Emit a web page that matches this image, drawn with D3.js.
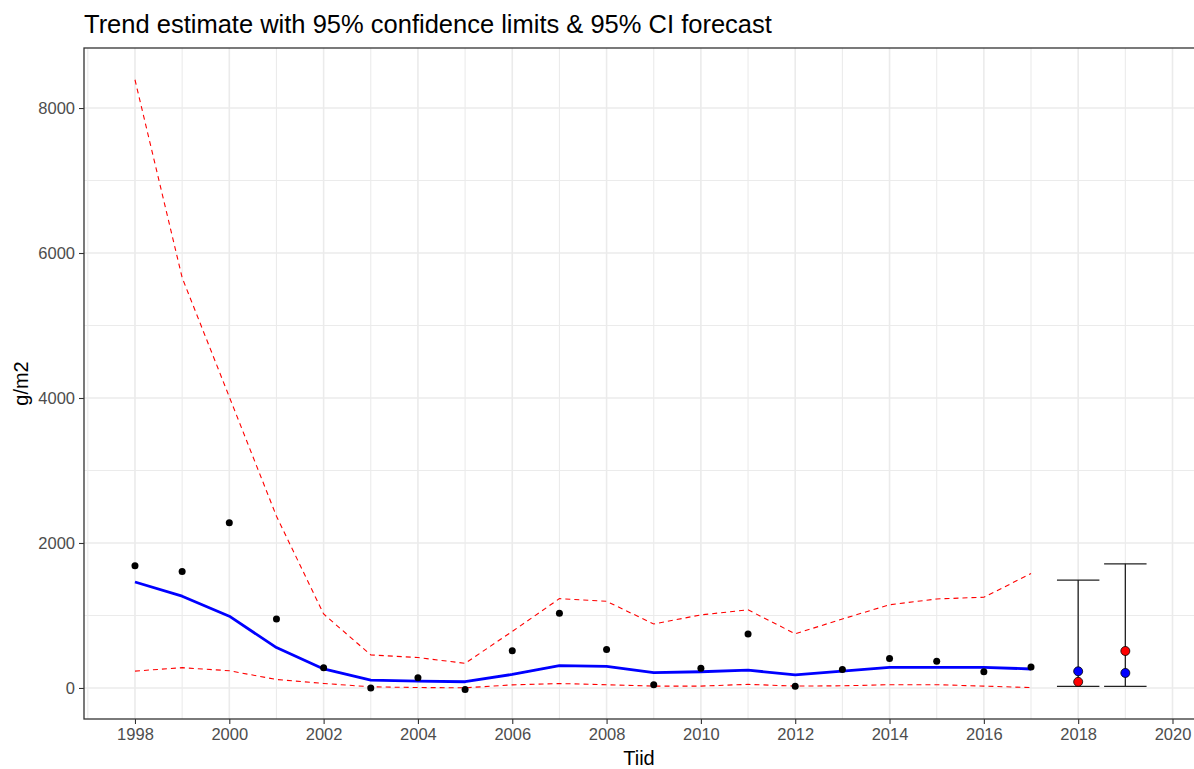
<!DOCTYPE html>
<html>
<head>
<meta charset="utf-8">
<script src="https://cdn.jsdelivr.net/npm/d3@7"></script>
<style>
body { margin:0; background:#fff; }
text { font-family: "Liberation Sans", Arial, sans-serif; }
</style>
</head>
<body>
<svg></svg>
<script>
// observed values (g/m2)
var years = [1998,1999,2000,2001,2002,2003,2004,2005,2006,2007,2008,2009,2010,2011,2012,2013,2014,2015,2016,2017]
var observed = [1685,1605,2280,952,279,0,140,-20,515,1030,530,45,272,746,25,254,406,368,225,290]
var trend = [1462,1266,990,557,262,108,94,86,187,307,298,213,224,246,180,233,285,285,285,262]
var lowerCI = [233,280,238,117,62,16,6,2,43,61,45,26,26,50,26,30,45,45,26,5]
var upperCI = [8390,5660,4015,2370,1020,456,420,340,780,1232,1195,883,1008,1078,747,952,1148,1228,1252,1578]

// forecast
var fcYears = [2018,2019]
var fcLow = [22,22]
var fcHigh = [1488,1712]
var fcTrend = [230,207]   // blue
var fcObs = [85,510]      // red

var xTicks = [1998,2000,2002,2004,2006,2008,2010,2012,2014,2016,2018,2020]
var yTicks = [0,2000,4000,6000,8000]

var screen = {width: 1194, height: 769}
var panel = {left: 84, top: 48, right: 1194, bottom: 719}

var svg = d3.select("svg")
    .attr("width", screen.width)
    .attr("height", screen.height)

var xScale = d3.scaleLinear()
    .domain([1996.919, 2020.456])
    .range([panel.left, panel.right])
var yScale = d3.scaleLinear()
    .domain([-428, 8828])
    .range([panel.bottom, panel.top])

// grid
var grid = svg.append("g").attr("id","grid")
var minorX = d3.range(1997, 2021, 2)
var minorY = [1000,3000,5000,7000]

grid.selectAll(".minx").data(minorX).enter().append("line")
    .attr("x1", function(d){return xScale(d)}).attr("x2", function(d){return xScale(d)})
    .attr("y1", panel.top).attr("y2", panel.bottom)
    .attr("stroke", "#ebebeb").attr("stroke-width", 1.1)
grid.selectAll(".miny").data(minorY).enter().append("line")
    .attr("y1", function(d){return yScale(d)}).attr("y2", function(d){return yScale(d)})
    .attr("x1", panel.left).attr("x2", panel.right)
    .attr("stroke", "#ebebeb").attr("stroke-width", 1.1)
grid.selectAll(".majx").data(xTicks).enter().append("line")
    .attr("x1", function(d){return xScale(d)}).attr("x2", function(d){return xScale(d)})
    .attr("y1", panel.top).attr("y2", panel.bottom)
    .attr("stroke", "#ebebeb").attr("stroke-width", 1.6)
grid.selectAll(".majy").data(yTicks).enter().append("line")
    .attr("y1", function(d){return yScale(d)}).attr("y2", function(d){return yScale(d)})
    .attr("x1", panel.left).attr("x2", panel.right)
    .attr("stroke", "#ebebeb").attr("stroke-width", 1.6)

// confidence limits
var lineGen = function(vals){
    return d3.line()
        .x(function(d,i){return xScale(years[i])})
        .y(function(d){return yScale(d)})(vals)
}
svg.append("path").attr("d", lineGen(upperCI))
    .attr("fill","none").attr("stroke","#ff0000").attr("stroke-width",1.1)
    .attr("stroke-dasharray","5,4")
svg.append("path").attr("d", lineGen(lowerCI))
    .attr("fill","none").attr("stroke","#ff0000").attr("stroke-width",1.1)
    .attr("stroke-dasharray","5,4")

// trend
svg.append("path").attr("d", lineGen(trend))
    .attr("fill","none").attr("stroke","#0000ff").attr("stroke-width",2.8)
    .attr("stroke-linejoin","round")

// observed points
svg.selectAll(".obs").data(observed).enter().append("circle")
    .attr("cx", function(d,i){return xScale(years[i])})
    .attr("cy", function(d){return yScale(d)})
    .attr("r", 3.5).attr("fill","black")

// forecast error bars
var fc = svg.append("g").attr("id","forecast")
fcYears.forEach(function(yr,i){
    var g = fc.append("g").attr("stroke","#222").attr("stroke-width",1.3)
    g.append("line").attr("x1",xScale(yr)).attr("x2",xScale(yr))
        .attr("y1",yScale(fcLow[i])).attr("y2",yScale(fcHigh[i]))
    g.append("line").attr("x1",xScale(yr-0.45)).attr("x2",xScale(yr+0.45))
        .attr("y1",yScale(fcLow[i])).attr("y2",yScale(fcLow[i]))
    g.append("line").attr("x1",xScale(yr-0.45)).attr("x2",xScale(yr+0.45))
        .attr("y1",yScale(fcHigh[i])).attr("y2",yScale(fcHigh[i]))
})
fc.selectAll(".fcb").data(fcTrend).enter().append("circle")
    .attr("cx", function(d,i){return xScale(fcYears[i])})
    .attr("cy", function(d){return yScale(d)})
    .attr("r", 4.5).attr("fill","#0000ff").attr("stroke","black").attr("stroke-width",0.8)
fc.selectAll(".fcr").data(fcObs).enter().append("circle")
    .attr("cx", function(d,i){return xScale(fcYears[i])})
    .attr("cy", function(d){return yScale(d)})
    .attr("r", 4.5).attr("fill","#ff0000").attr("stroke","black").attr("stroke-width",0.8)

// panel border
svg.append("rect")
    .attr("x", panel.left).attr("y", panel.top)
    .attr("width", panel.right - panel.left + 10).attr("height", panel.bottom - panel.top)
    .attr("fill","none").attr("stroke","#333").attr("stroke-width",1.3)

// axes
var xAxis = d3.axisBottom(xScale).tickValues(xTicks).tickFormat(d3.format("d")).tickSize(5).tickPadding(4)
var yAxis = d3.axisLeft(yScale).tickValues(yTicks).tickFormat(d3.format("d")).tickSize(5).tickPadding(4)

var gx = svg.append("g").attr("transform","translate(0,"+panel.bottom+")").call(xAxis)
var gy = svg.append("g").attr("transform","translate("+panel.left+",0)").call(yAxis)
;[gx,gy].forEach(function(g){
    g.select(".domain").remove()
    g.selectAll(".tick line").attr("stroke","#333").attr("stroke-width",1.1)
    g.selectAll(".tick text").attr("fill","#4d4d4d").style("font-size","16.5px")
        .style("font-family","'Liberation Sans', Arial, sans-serif")
})

// titles
svg.append("text").attr("x", panel.left).attr("y", 33)
    .style("font-size","25.5px").attr("fill","black")
    .text("Trend estimate with 95% confidence limits & 95% CI forecast")
svg.append("text").attr("x", (panel.left + panel.right)/2).attr("y", 765)
    .attr("text-anchor","middle").style("font-size","20px").attr("fill","black")
    .text("Tiid")
svg.append("text").attr("transform","translate(28,"+((panel.top+panel.bottom)/2)+") rotate(-90)")
    .attr("text-anchor","middle").style("font-size","20px").attr("fill","black")
    .text("g/m2")
</script>
</body>
</html>
